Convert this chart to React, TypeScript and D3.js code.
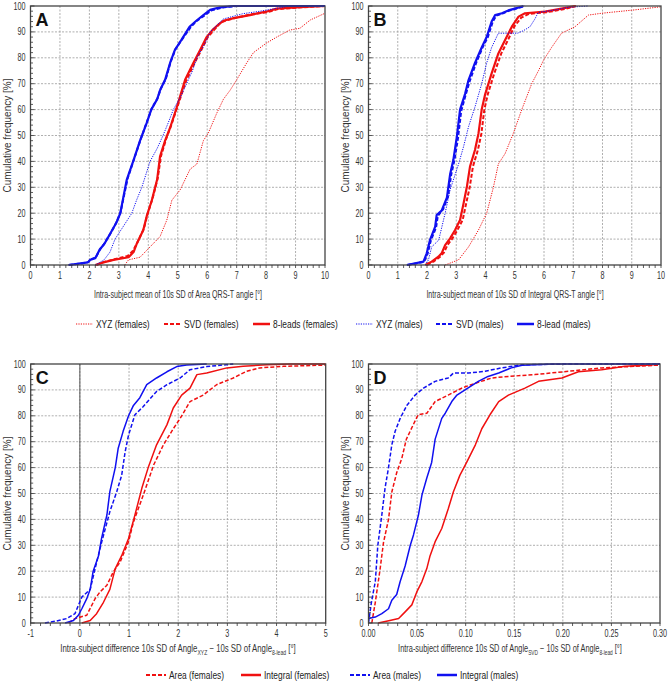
import React from "react";
import * as d3 from "d3";

type Pt = [number, number];

const RED = "#f01010";
const BLUE = "#1010f0";

// Y ticks (cumulative frequency %)
const yTicks = [0, 10, 20, 30, 40, 50, 60, 70, 80, 90, 100];
const abXTicks = [0, 1, 2, 3, 4, 5, 6, 7, 8, 9, 10];
const cXTicks = [-1, 0, 1, 2, 3, 4, 5];
const dXTicks = [0, 0.05, 0.1, 0.15, 0.2, 0.25, 0.3];

// Panel A – Area QRS-T angle
const aXyzF: Pt[] = [[3.2,0],[3.33,2],[3.72,3],[4.06,7],[4.4,11],[4.63,17.4],[4.8,25],[5.08,29],[5.42,37],[5.65,39],[5.87,48],[6.04,51],[6.32,58.5],[6.55,64],[6.78,67.5],[7.0,71.5],[7.34,78],[7.57,82],[8.0,85.6],[8.36,88],[8.8,90.7],[9.15,91.4],[9.5,94.6],[10,97.2]];
const aSvdF: Pt[] = [[2.25,0],[2.5,1.2],[2.85,2.2],[3.3,3.5],[3.48,5.5],[3.62,8.5],[3.85,14],[3.97,19.5],[4.14,25.5],[4.32,33.5],[4.43,42],[4.6,48.5],[4.78,54],[5.0,61.5],[5.28,71],[5.55,77.5],[5.8,83],[6.02,88],[6.25,91],[6.45,93.5],[6.65,94.5],[7.0,95.5],[7.5,96.8],[8.05,97.6],[8.4,98.8],[9.2,99.5],[10,100]];
const aEightF: Pt[] = [[2.2,0],[2.48,1],[2.82,2],[3.33,3],[3.5,5],[3.6,8],[3.83,13.5],[3.95,19],[4.12,25],[4.3,33],[4.4,42],[4.57,48],[4.74,53],[4.97,61],[5.25,71.5],[5.53,78],[5.76,83],[5.98,88],[6.2,91],[6.4,93],[6.55,94.3],[6.9,95.3],[7.45,96.5],[8.0,97.8],[8.36,99],[9.15,99.6],[10,100]];
const aXyzM: Pt[] = [[2.2,0],[2.5,2],[2.7,5],[2.87,10],[3.1,14],[3.44,20],[3.6,25],[3.78,30],[4.06,40],[4.3,45],[4.5,50],[4.68,55],[4.85,60],[5.1,65],[5.3,70],[5.5,75],[5.65,80],[5.9,85],[6.1,90],[6.55,95],[7.2,97],[7.8,98],[8.8,100],[10,100]];
const aSvdM: Pt[] = [[1.3,0],[1.75,0.6],[1.97,1.2],[2.05,2.2],[2.22,3],[2.37,6.2],[2.52,8.5],[2.72,12.3],[2.92,16.5],[3.06,20.5],[3.17,26.5],[3.3,33.5],[3.52,41],[3.74,48.5],[3.96,55.5],[4.12,60.5],[4.32,64.5],[4.42,68],[4.6,72],[4.76,78.5],[4.93,83.5],[5.17,87.5],[5.45,92],[5.62,94],[5.9,96.3],[6.15,98.3],[6.5,99.4],[7,100],[10,100]];
const aEightM: Pt[] = [[1.29,0],[1.7,0.6],[1.95,1],[2.02,2],[2.2,2.6],[2.35,6],[2.5,8],[2.7,12],[2.9,16],[3.05,20],[3.15,26],[3.27,33],[3.5,40.5],[3.72,48],[3.95,55],[4.1,60],[4.3,64],[4.4,67.5],[4.57,71.5],[4.74,78],[4.9,83],[5.13,87],[5.4,92],[5.65,94.5],[5.87,96.5],[6.1,98.5],[6.44,99.5],[6.9,100],[10,100]];

// Panel B – Integral QRS-T angle
const bXyzF: Pt[] = [[2.62,0],[3.08,2],[3.42,7],[3.76,13.5],[4.04,20],[4.27,30],[4.44,39],[4.67,43],[4.95,50.8],[5.24,60],[5.58,70],[5.81,75],[5.98,79],[6.26,84],[6.6,89.5],[7.06,92],[7.52,96.5],[7.97,97.2],[9.1,98.5],[10,99.7]];
const bSvdF: Pt[] = [[2.0,0],[2.22,1.3],[2.45,3.2],[2.58,4.8],[2.7,7.7],[2.87,10.3],[3.04,13.5],[3.22,17.4],[3.34,23.8],[3.46,30],[3.57,38],[3.74,44.4],[3.86,50.8],[3.96,60],[4.08,66],[4.3,74],[4.54,81.7],[4.77,86.9],[4.98,92],[5.22,95.5],[5.5,97],[6.1,97.6],[6.7,98.8],[7.1,100]];
const bEightF: Pt[] = [[1.94,0],[2.16,1.3],[2.39,3.2],[2.5,4.5],[2.62,7.7],[2.79,10.3],[2.96,13.5],[3.13,17.4],[3.25,23.8],[3.36,30],[3.47,38],[3.64,44.4],[3.76,50.8],[3.87,60],[3.99,66],[4.21,74],[4.44,81.7],[4.67,86.9],[4.9,92],[5.13,95.9],[5.35,97.2],[6.04,97.8],[6.6,99],[7.06,100]];
const bXyzM: Pt[] = [[1.94,0],[2.05,2],[2.16,7],[2.4,9.6],[2.62,20],[2.79,29],[3.08,39],[3.25,45.7],[3.42,53.4],[3.64,61],[3.87,70],[4.04,78],[4.21,84],[4.44,89.5],[4.78,89.5],[5.1,89.5],[5.3,90.5],[5.52,92],[5.69,95],[5.8,97.5],[6.38,98.5],[6.83,99.5],[7.5,100]];
const bSvdM: Pt[] = [[1.33,0],[1.9,1.2],[2.02,4.3],[2.13,9.4],[2.31,14.5],[2.37,19],[2.55,21.5],[2.72,26.5],[2.83,35],[2.94,40.5],[3.06,49],[3.17,59.5],[3.33,66],[3.46,71],[3.68,78],[3.9,84],[4.08,88],[4.25,94],[4.37,96.3],[4.6,97.2],[4.82,98.2],[5.05,99],[5.35,100]];
const bEightM: Pt[] = [[1.31,0],[1.88,1.3],[1.99,4.5],[2.1,9.6],[2.28,14.8],[2.33,19.3],[2.5,21],[2.68,26],[2.79,35],[2.9,40.5],[3.02,49.5],[3.13,60],[3.3,66],[3.42,71.4],[3.64,78],[3.87,84],[4.04,88],[4.21,94],[4.33,96.5],[4.56,97.2],[4.78,98.3],[5.0,99],[5.3,100]];

// Panel C – difference XYZ − 8-lead
const cAreaF: Pt[] = [[-0.23,0],[-0.1,1.7],[0.14,3],[0.31,9.4],[0.41,12],[0.55,14.6],[0.68,19.7],[0.82,23.6],[0.99,31.4],[1.09,39],[1.29,49.4],[1.5,61],[1.7,68.8],[1.9,75],[2.04,79],[2.24,85.5],[2.51,88],[2.78,92],[3.12,94.6],[3.39,97.2],[3.66,98.5],[4.14,99.1],[5,99.6]];
const cIntF: Pt[] = [[0.04,0],[0.21,1],[0.34,3.6],[0.48,8],[0.61,13],[0.72,21],[0.85,26],[0.99,32.6],[1.12,41.7],[1.26,52],[1.39,60],[1.56,68.8],[1.77,76.5],[1.9,83],[2.07,88],[2.24,90.7],[2.38,95.9],[2.58,96.5],[2.99,98.5],[3.32,99.1],[3.8,99.7],[4.28,100],[5,100]];
const cAreaM: Pt[] = [[-0.71,0],[-0.47,0.8],[-0.27,1.7],[-0.1,3.6],[-0.03,6.8],[0.04,10],[0.21,13],[0.31,21],[0.44,31],[0.61,43],[0.75,50.7],[0.85,57],[0.92,66],[0.99,72.6],[1.12,80.4],[1.29,83.6],[1.56,89.4],[1.77,92],[2.04,94.6],[2.24,97.8],[2.58,99],[3.12,100]];
const cIntM: Pt[] = [[-0.3,0],[-0.13,1],[-0.03,3],[0.04,5.5],[0.14,9.4],[0.21,13],[0.27,20],[0.38,26],[0.44,32.6],[0.55,41.7],[0.61,50.7],[0.72,60],[0.78,67.5],[0.88,74],[0.99,80],[1.09,84],[1.22,87],[1.36,92],[1.56,94.6],[1.77,97],[1.97,99],[2.17,99.6],[2.58,100]];

// Panel D – difference SVD − 8-lead
const dAreaF: Pt[] = [[0.0034,0],[0.007,8],[0.012,21],[0.0154,31],[0.0206,40],[0.024,50.6],[0.029,58],[0.0343,63.6],[0.039,71],[0.046,76.5],[0.051,80.4],[0.06,81],[0.0686,85.5],[0.082,88],[0.096,90.7],[0.11,92.6],[0.127,94.6],[0.144,95.2],[0.171,95.9],[0.206,97.2],[0.24,98.5],[0.274,99.1],[0.3,99.6]];
const dIntF: Pt[] = [[0.01,0],[0.022,1],[0.031,1.7],[0.0377,4.3],[0.0446,7],[0.0497,12],[0.055,16],[0.06,21],[0.0634,26],[0.0686,31.4],[0.0754,36.5],[0.082,44],[0.0874,50.7],[0.094,57],[0.101,62],[0.11,68.8],[0.1166,75],[0.125,80.4],[0.134,85.5],[0.144,88],[0.161,90.7],[0.175,93.3],[0.199,94.6],[0.216,97],[0.24,97.8],[0.264,99.1],[0.291,99.6],[0.3,100]];
const dAreaM: Pt[] = [[0,0],[0.003,8],[0.007,16],[0.0096,30],[0.0137,41.7],[0.017,52],[0.0206,60],[0.024,68.8],[0.0274,74],[0.0326,79],[0.0394,84],[0.048,88],[0.0566,90.7],[0.0686,93.3],[0.082,94.6],[0.0874,96.5],[0.103,96.5],[0.12,97.2],[0.137,98.5],[0.158,99.7],[0.206,100],[0.3,100]];
const dIntM: Pt[] = [[0,1.7],[0.007,2.3],[0.0137,3.6],[0.0206,5.5],[0.024,8.8],[0.029,11],[0.0326,16],[0.0377,22],[0.043,30],[0.0463,34],[0.0514,41.7],[0.055,49.4],[0.06,56],[0.065,62],[0.0686,71],[0.0754,79],[0.079,81],[0.0857,85.5],[0.091,88],[0.0994,90],[0.113,93.3],[0.123,95.2],[0.134,96.5],[0.147,98.5],[0.158,99.5],[0.189,100],[0.3,100]];

const topLegend = ["XYZ (females)", "SVD (females)", "8-leads (females)", "XYZ (males)", "SVD (males)", "8-lead (males)"];
const bottomLegend = ["Area (females)", "Integral (females)", "Area (males)", "Integral (males)"];

const SANS = "'Liberation Sans', Arial, sans-serif";
const CONDENSE = 0.74;

type Kind = "solid" | "dashed" | "dotted";
interface Curve { data: Pt[]; color: string; kind: Kind; width: number }

function dash(kind: Kind) {
  if (kind === "dashed") return "4,2";
  if (kind === "dotted") return "1.2,1.2";
  return undefined;
}

function CText({ x, y, anchor, size, children, sx = CONDENSE, dy, fill = "#333" }: { x: number; y: number; anchor: string; size: number; children: React.ReactNode; sx?: number; dy?: string; fill?: string }) {
  return (
    <text transform={`translate(${x},${y}) scale(${sx},1)`} textAnchor={anchor as any} dy={dy}
      fontFamily={SANS} fontSize={size} fill={fill}>{children}</text>
  );
}

interface PanelProps {
  left: number; right: number; top: number; bottom: number;
  xDomain: [number, number]; xTicks: number[]; xMinor: number; fmt: (v: number) => string;
  letter: string; curves: Curve[]; zero?: boolean;
  yTitleX: number;
}

function Panel(p: PanelProps) {
  const x = d3.scaleLinear().domain(p.xDomain).range([p.left, p.right]);
  const y = d3.scaleLinear().domain([0, 100]).range([p.bottom, p.top]);
  const line = d3.line<Pt>().x(d => x(d[0])).y(d => y(d[1]));
  const n = Math.round((p.xDomain[1] - p.xDomain[0]) / p.xMinor);
  const xMinors = d3.range(n + 1).map(i => p.xDomain[0] + i * p.xMinor);
  const yMinors = d3.range(51).map(i => i * 2);
  const clipId = "clip" + p.letter;
  return (
    <g>
      <defs>
        <clipPath id={clipId}>
          <rect x={p.left} y={p.top - 2} width={p.right - p.left + 2} height={p.bottom - p.top + 3} />
        </clipPath>
      </defs>
      {yTicks.slice(1, -1).map(t => (
        <line key={"gy" + t} x1={p.left} x2={p.right} y1={y(t)} y2={y(t)} stroke="#9a9a9a" strokeWidth={0.8} strokeDasharray="2,1.5" />
      ))}
      {p.xTicks.slice(1, -1).map(t => (
        <line key={"gx" + t} x1={x(t)} x2={x(t)} y1={p.top} y2={p.bottom} stroke="#9a9a9a" strokeWidth={0.8} strokeDasharray="2,1.5" />
      ))}
      {p.zero && <line x1={x(0)} x2={x(0)} y1={p.top} y2={p.bottom} stroke="#555" strokeWidth={1} />}
      <g clipPath={`url(#${clipId})`}>
        {p.curves.map((c, i) => (
          <path key={i} d={line(c.data) || ""} fill="none" stroke={c.color} strokeWidth={c.width}
            strokeDasharray={dash(c.kind)} strokeLinejoin="round" />
        ))}
      </g>
      <rect x={p.left} y={p.top} width={p.right - p.left} height={p.bottom - p.top} fill="none" stroke="#444" strokeWidth={1.3} />
      {yMinors.map(t => (
        <line key={"ty" + t} x1={p.left} x2={p.left + (t % 10 === 0 ? 4 : 2.5)} y1={y(t)} y2={y(t)} stroke="#333" strokeWidth={0.8} />
      ))}
      {xMinors.map((t, i) => (
        <line key={"tx" + i} x1={x(t)} x2={x(t)} y1={p.bottom} y2={p.bottom + 3} stroke="#333" strokeWidth={0.8} />
      ))}
      {yTicks.map(t => (
        <CText key={"ly" + t} x={p.left - 5} y={y(t)} dy="0.35em" anchor="end" size={10} sx={0.72}>{t}</CText>
      ))}
      {p.xTicks.map(t => (
        <CText key={"lx" + t} x={x(t)} y={p.bottom + 13.5} anchor="middle" size={10} sx={0.72}>{p.fmt(t)}</CText>
      ))}
      <text x={p.left + 5} y={p.top + 20} fontFamily={SANS} fontWeight="bold" fontSize={18} fill="#111">{p.letter}</text>
      <text transform={`translate(${p.yTitleX},${(p.top + p.bottom) / 2}) rotate(-90)`} textAnchor="middle" dy="0.35em"
        fontFamily={SANS} fontSize={10} fill="#333">Cumulative frequency [%]</text>
    </g>
  );
}

interface LegendSpec { label: string; color: string; kind: Kind; width: number; textW: number }

function Legend({ cx, y, items, lineLen, gap }: { cx: number; y: number; items: LegendSpec[]; lineLen: number; gap: number }) {
  const total = items.reduce((s, it) => s + lineLen + 3 + it.textW, 0) + gap * (items.length - 1);
  let xPos = cx - total / 2;
  return (
    <g>
      {items.map((it, i) => {
        const x0 = xPos;
        xPos += lineLen + 3 + it.textW + gap;
        return (
          <g key={i}>
            <line x1={x0} x2={x0 + lineLen} y1={y} y2={y} stroke={it.color} strokeWidth={it.width} strokeDasharray={dash(it.kind)} />
            <CText x={x0 + lineLen + 3} y={y} dy="0.35em" anchor="start" size={10.5} sx={0.8} fill="#222">{it.label}</CText>
          </g>
        );
      })}
    </g>
  );
}

export default function App() {
  const fmtInt = (v: number) => String(v);
  const fmt2 = (v: number) => v.toFixed(2);
  const topA = 6, botA = 265, topC = 364, botC = 623;
  const topItems: LegendSpec[] = [
    { label: topLegend[0], color: RED, kind: "dotted", width: 1.2, textW: 54 },
    { label: topLegend[1], color: RED, kind: "dashed", width: 2, textW: 55 },
    { label: topLegend[2], color: RED, kind: "solid", width: 2.5, textW: 69 },
    { label: topLegend[3], color: BLUE, kind: "dotted", width: 1.2, textW: 46 },
    { label: topLegend[4], color: BLUE, kind: "dashed", width: 2, textW: 47 },
    { label: topLegend[5], color: BLUE, kind: "solid", width: 2.5, textW: 57 },
  ];
  const bottomItems: LegendSpec[] = [
    { label: bottomLegend[0], color: RED, kind: "dashed", width: 2, textW: 58 },
    { label: bottomLegend[1], color: RED, kind: "solid", width: 2.5, textW: 72 },
    { label: bottomLegend[2], color: BLUE, kind: "dashed", width: 2, textW: 50 },
    { label: bottomLegend[3], color: BLUE, kind: "solid", width: 2.5, textW: 64 },
  ];
  return (
    <svg width={669} height={694} style={{ position: "absolute", left: 0, top: 0, background: "#fff" }}>
      <Panel left={30.5} right={325} top={topA} bottom={botA} xDomain={[0, 10]} xTicks={abXTicks} xMinor={0.2} fmt={fmtInt}
        letter="A" yTitleX={7}
        curves={[
          { data: aXyzF, color: RED, kind: "dotted", width: 1 },
          { data: aSvdF, color: RED, kind: "dashed", width: 2 },
          { data: aEightF, color: RED, kind: "solid", width: 2.2 },
          { data: aXyzM, color: BLUE, kind: "dotted", width: 1 },
          { data: aSvdM, color: BLUE, kind: "dashed", width: 2 },
          { data: aEightM, color: BLUE, kind: "solid", width: 2.2 },
        ]} />
      <Panel left={368.5} right={661} top={topA} bottom={botA} xDomain={[0, 10]} xTicks={abXTicks} xMinor={0.2} fmt={fmtInt}
        letter="B" yTitleX={345}
        curves={[
          { data: bXyzF, color: RED, kind: "dotted", width: 1 },
          { data: bSvdF, color: RED, kind: "dashed", width: 2 },
          { data: bEightF, color: RED, kind: "solid", width: 2.2 },
          { data: bXyzM, color: BLUE, kind: "dotted", width: 1 },
          { data: bSvdM, color: BLUE, kind: "dashed", width: 2 },
          { data: bEightM, color: BLUE, kind: "solid", width: 2.2 },
        ]} />
      <Panel left={30.7} right={325.7} top={topC} bottom={botC} xDomain={[-1, 5]} xTicks={cXTicks} xMinor={0.2} fmt={fmtInt}
        letter="C" yTitleX={7} zero
        curves={[
          { data: cAreaF, color: RED, kind: "dashed", width: 1.5 },
          { data: cIntF, color: RED, kind: "solid", width: 1.5 },
          { data: cAreaM, color: BLUE, kind: "dashed", width: 1.5 },
          { data: cIntM, color: BLUE, kind: "solid", width: 1.5 },
        ]} />
      <Panel left={368.5} right={660} top={topC} bottom={botC} xDomain={[0, 0.3]} xTicks={dXTicks} xMinor={0.01} fmt={fmt2}
        letter="D" yTitleX={345}
        curves={[
          { data: dAreaF, color: RED, kind: "dashed", width: 1.5 },
          { data: dIntF, color: RED, kind: "solid", width: 1.5 },
          { data: dAreaM, color: BLUE, kind: "dashed", width: 1.5 },
          { data: dIntM, color: BLUE, kind: "solid", width: 1.5 },
        ]} />

      <CText x={178} y={298} anchor="middle" size={10} sx={0.71}>Intra-subject mean of 10s SD of Area QRS-T angle [°]</CText>
      <CText x={515} y={298} anchor="middle" size={10} sx={0.71}>Intra-subject mean of 10s SD of Integral QRS-T angle [°]</CText>

      <CText x={178} y={652} anchor="middle" size={10} sx={0.78}>
        Intra-subject difference 10s SD of Angle<tspan fontSize={6.5} dy={2.5}>XYZ</tspan><tspan dy={-2.5}> − 10s SD of Angle</tspan><tspan fontSize={6.5} dy={2.5}>8-lead</tspan><tspan dy={-2.5}> [°]</tspan>
      </CText>
      <CText x={510} y={652} anchor="middle" size={10} sx={0.74}>
        Intra-subject difference 10s SD of Angle<tspan fontSize={6.5} dy={2.5}>SVD</tspan><tspan dy={-2.5}> − 10s SD of Angle</tspan><tspan fontSize={6.5} dy={2.5}>8-lead</tspan><tspan dy={-2.5}> [°]</tspan>
      </CText>

      <Legend cx={335} y={324} items={topItems} lineLen={17} gap={14} />
      <Legend cx={335} y={675} items={bottomItems} lineLen={20} gap={14} />
    </svg>
  );
}
